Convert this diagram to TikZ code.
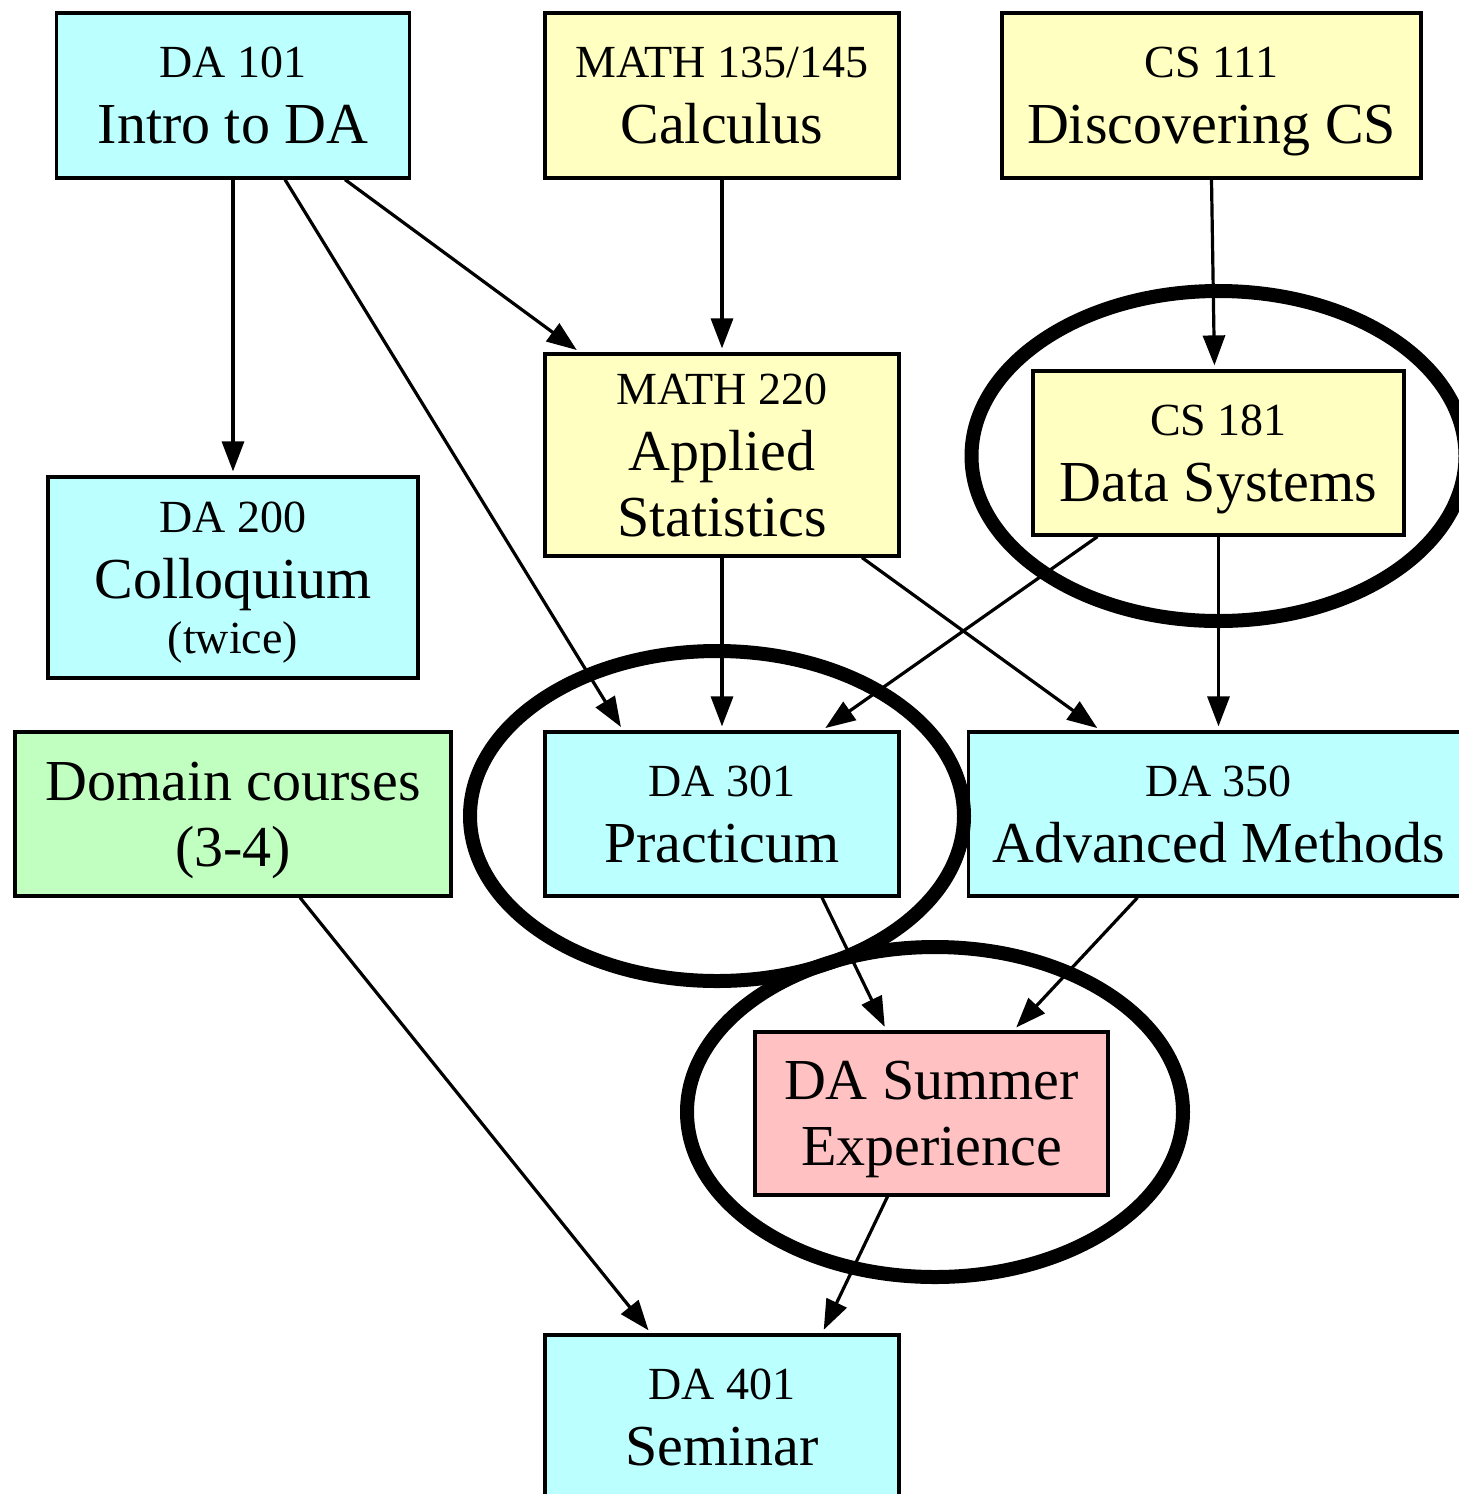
\documentclass[tikz,border=0pt]{standalone}
\usepackage{fontspec}
\setmainfont{Liberation Serif}
\usetikzlibrary{arrows.meta, positioning}
\definecolor{dacyan}{RGB}{187,255,255}
\definecolor{reqyellow}{RGB}{255,255,193}
\definecolor{domgreen}{RGB}{193,255,193}
\definecolor{exppink}{RGB}{255,193,193}
\newcommand{\cnum}[1]{{\fontsize{23}{33}\selectfont #1}}

\begin{document}
\begin{tikzpicture}[x=0.5pt, y=-0.5pt,
  course/.style={draw, line width=1.6pt, inner sep=0pt, align=center, text depth=0pt,
    font=\fontsize{29}{33}\selectfont, minimum height=82.5pt},
  da/.style={course, fill=dacyan},
  req/.style={course, fill=reqyellow},
  dom/.style={course, fill=domgreen},
  exp/.style={course, fill=exppink},
  pre/.style={-{Triangle[length=15pt, width=11pt]}, line width=1.6pt, shorten >=2pt},
  ring/.style={line width=7pt}]
\useasboundingbox (0,0) rectangle (1459,1494);
\clip (0,0) rectangle (1459,1494);
\node[da, minimum width=176.5pt] (da101) at (233,95.5) {\cnum{DA 101}\\Intro to DA};
\node[req, minimum width=177pt] (math135) at (722,95.5) {\cnum{MATH 135/145}\\Calculus};
\node[req, minimum width=209.5pt] (cs111) at (1211.5,95.5) {\cnum{CS 111}\\Discovering CS};
\node[req, minimum width=177pt, minimum height=101pt] (math220) at (722,455) {\cnum{MATH 220}\\Applied\\Statistics};
\node[req, minimum width=185.5pt, minimum height=82pt] (cs181) at (1218.5,453) {\cnum{CS 181}\\Data Systems};
\node[da, minimum width=185pt, minimum height=100.5pt] (da200) at (233,577.5) {\cnum{DA 200}\\Colloquium\\[-5.5pt]\cnum{(twice)}};
\node[dom, minimum width=218pt, minimum height=82pt] (domain) at (233,814) {Domain courses\\(3-4)};
\node[da, minimum width=177pt, minimum height=82pt] (da301) at (722,814) {\cnum{DA 301}\\Practicum};
\node[da, minimum width=250pt, minimum height=82pt] (da350) at (1218.5,814) {\cnum{DA 350}\\Advanced Methods};
\node[exp, minimum width=176.5pt, minimum height=81.5pt] (summer) at (931.5,1113.5) {DA Summer\\Experience};
\node[da, minimum width=177pt] (da401) at (722,1417.5) {\cnum{DA 401}\\Seminar};

\draw[pre] (da101.south) -- (da200.north);
\draw[pre] ([xshift=26pt]da101.south) -- ([xshift=-49.5pt]da301.north);
\draw[pre] ([xshift=56pt]da101.south) -- ([xshift=-71pt]math220.north);
\draw[pre] (math135.south) -- (math220.north);
\draw[pre] (cs111.south) -- ([xshift=-2pt]cs181.north);
\draw[pre] (math220.south) -- (da301.north);
\draw[pre] ([xshift=70pt]math220.south) -- ([xshift=-59pt]da350.north);
\draw[pre] ([xshift=-60.5pt]cs181.south) -- ([xshift=50pt]da301.north);
\draw[pre] (cs181.south) -- (da350.north);
\draw[pre] ([xshift=33.5pt]domain.south) -- ([xshift=-35.5pt]da401.north);
\draw[pre] ([xshift=50pt]da301.south) -- ([xshift=-22.5pt]summer.north);
\draw[pre] ([xshift=-40.5pt]da350.south) -- ([xshift=41pt]summer.north);
\draw[pre] ([xshift=-22pt]summer.south) -- ([xshift=50pt]da401.north);

\draw[ring] ([yshift=-1.5pt]cs181.center) ellipse [x radius=123.5pt, y radius=82.5pt];
\draw[ring] ([xshift=-2.5pt, yshift=-1pt]da301.center) ellipse [x radius=123.5pt, y radius=82.5pt];
\draw[ring] ([xshift=1.75pt, yshift=0.75pt]summer.center) ellipse [x radius=124pt, y radius=82.5pt];
\end{tikzpicture}
\end{document}
